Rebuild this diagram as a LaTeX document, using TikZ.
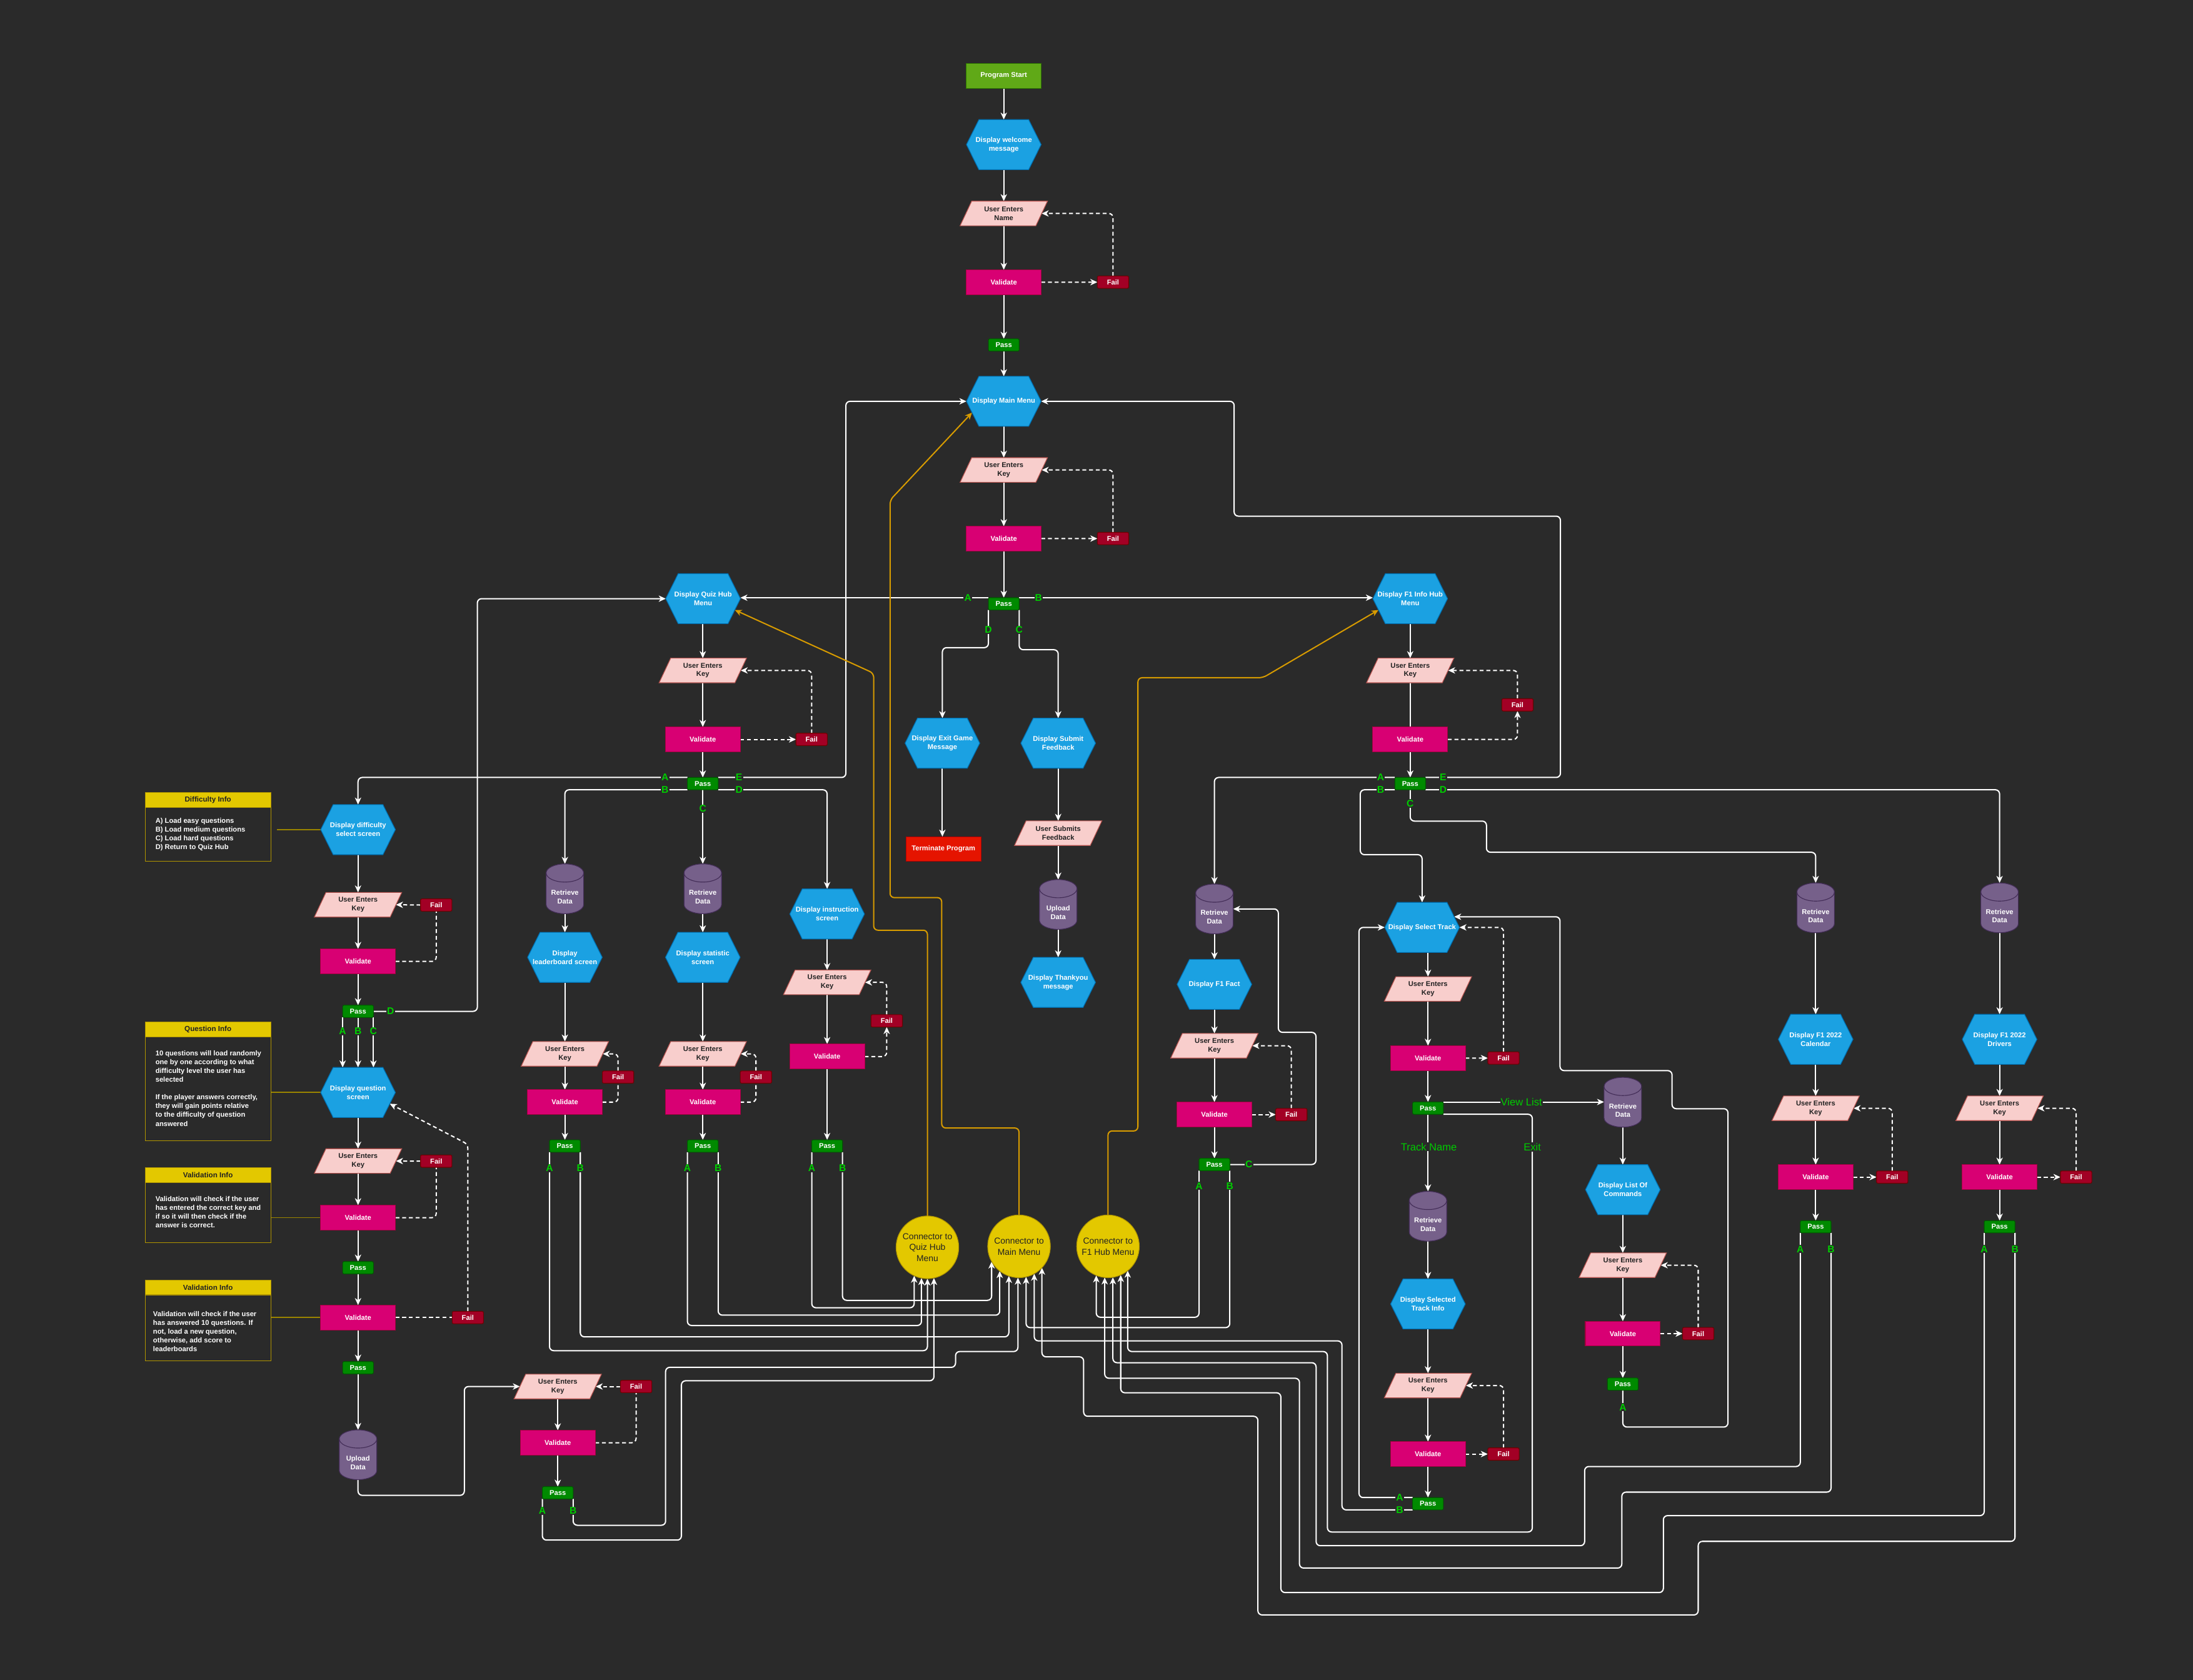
\documentclass[tikz,border=0pt]{standalone}
\usepackage{fontspec}
\setmainfont{Liberation Sans}
\usetikzlibrary{arrows.meta,calc}

\definecolor{bgc}{HTML}{2A2A2A}
\definecolor{hexfill}{HTML}{1BA1E2}
\definecolor{hexline}{HTML}{006EAF}
\definecolor{iofill}{HTML}{F8CECC}
\definecolor{ioline}{HTML}{B85450}
\definecolor{valfill}{HTML}{D80073}
\definecolor{valline}{HTML}{A50040}
\definecolor{failfill}{HTML}{A20025}
\definecolor{failline}{HTML}{6F0000}
\definecolor{passfill}{HTML}{008A00}
\definecolor{passline}{HTML}{005700}
\definecolor{startfill}{HTML}{60A917}
\definecolor{startline}{HTML}{2D7600}
\definecolor{termfill}{HTML}{E51400}
\definecolor{termline}{HTML}{B20000}
\definecolor{cylfill}{HTML}{76608A}
\definecolor{cylline}{HTML}{432D57}
\definecolor{yelfill}{HTML}{E3C800}
\definecolor{yelline}{HTML}{B09500}
\definecolor{orangeln}{HTML}{D79B00}
\definecolor{labgreen}{HTML}{00CC00}
\definecolor{oliveln}{HTML}{9A8400}
\definecolor{darktext}{HTML}{222222}

\pgfdeclarelayer{backdrop}
\pgfdeclarelayer{edges}
\pgfdeclarelayer{shapes}
\pgfsetlayers{backdrop,edges,shapes,main}

\tikzset{
  txt/.style={inner sep=0pt, outer sep=0pt, align=center, font=\fontsize{5}{6.2}\selectfont\bfseries},
  validbox/.style={txt, rectangle, minimum width=53.6pt, minimum height=17.8pt, fill=valfill, draw=valline, line width=0.5pt, text=white},
  startbox/.style={validbox, fill=startfill, draw=startline, minimum height=18pt},
  termbox/.style={validbox, fill=termfill, draw=termline},
  passbox/.style={txt, rectangle, rounded corners=1pt, minimum width=22pt, minimum height=8.8pt, fill=passfill, draw=passline, line width=0.5pt, text=white},
  failbox/.style={txt, rectangle, rounded corners=1pt, minimum width=22.4pt, minimum height=8.8pt, fill=failfill, draw=failline, line width=0.5pt, text=white},
  hexbox/.style={txt, minimum width=53.4pt, minimum height=35.8pt, text=white},
  iobox/.style={txt, minimum width=62.5pt, minimum height=17.6pt, text=darktext},
  cylbox/.style={txt, minimum width=26.8pt, minimum height=35.6pt},
  cyltext/.style={txt, text=white},
  conncircle/.style={circle, minimum size=44.8pt, inner sep=0pt, outer sep=0pt, fill=yelfill, draw=yelline, line width=0.5pt, align=center, font=\fontsize{6.2}{7.9}\selectfont, text=darktext},
  lab/.style={inner sep=0.5pt, fill=bgc, text=labgreen, font=\fontsize{7}{7}\selectfont\bfseries},
  wordlab/.style={inner sep=0.5pt, fill=bgc, text=labgreen, font=\fontsize{7.4}{8}\selectfont},
  infohead/.style={txt, anchor=north west, minimum width=89.8pt, minimum height=10.6pt, fill=yelfill, draw=yelline, line width=0.5pt, text=darktext, font=\fontsize{5.2}{6}\selectfont\bfseries},
  infobody/.style={anchor=north west, minimum width=89.8pt, inner sep=0pt, outer sep=0pt, draw=yelline, line width=0.5pt},
  infotext/.style={anchor=north west, inner sep=0pt, align=left, text=white, font=\fontsize{5}{6.3}\selectfont\bfseries},
  wline/.style={draw=white, line width=0.9pt, rounded corners=3pt},
  arr/.style={wline, -{Stealth[length=5pt,width=4.5pt,inset=1.5pt]}},
  dline/.style={wline, dash pattern=on 2.8pt off 2pt},
  darr/.style={dline, -{Stealth[length=5pt,width=4.5pt,inset=1.5pt]}},
  oarr/.style={draw=orangeln, line width=0.9pt, rounded corners=3pt, -{Stealth[length=5pt,width=4.5pt,inset=1.5pt]}},
  infoline/.style={draw=oliveln, line width=0.8pt},
}

% hexagon process box
\newcommand\hexnode[3]{%
  \node[hexbox] (#1) at (#2) {#3};
  \begin{pgfonlayer}{shapes}
    \filldraw[fill=hexfill, draw=hexline, line width=0.5pt]
      (#1.west) -- ([xshift=8.9pt]#1.north west) -- ([xshift=-8.9pt]#1.north east)
      -- (#1.east) -- ([xshift=-8.9pt]#1.south east) -- ([xshift=8.9pt]#1.south west) -- cycle;
  \end{pgfonlayer}}
% parallelogram input box
\newcommand\ionode[3]{%
  \node[iobox] (#1) at (#2) {#3};
  \begin{pgfonlayer}{shapes}
    \filldraw[fill=iofill, draw=ioline, line width=0.5pt]
      (#1.south west) -- ([xshift=8.3pt]#1.north west) -- (#1.north east)
      -- ([xshift=-8.3pt]#1.south east) -- cycle;
  \end{pgfonlayer}}
% database cylinder
\newcommand\cylnode[3]{%
  \node[cylbox] (#1) at (#2) {};
  \node[cyltext] at ([yshift=-5.8pt]#1.center) {#3};
  \begin{pgfonlayer}{shapes}
    \path[fill=cylfill, draw=cylline, line width=0.5pt]
      let \p1=(#1.north west), \p2=(#1.south east), \n1={0.5*(\x2-\x1)} in
      (\x1,{\y1-6.5pt}) arc[start angle=180, end angle=0, x radius={\n1*1pt}, y radius=6.5pt]
      -- (\x2,{\y2+6.5pt}) arc[start angle=0, end angle=-180, x radius={\n1*1pt}, y radius=6.5pt] -- cycle;
    \path[draw=cylline, line width=0.5pt]
      let \p1=(#1.north west), \p2=(#1.south east), \n1={0.5*(\x2-\x1)} in
      (\x1,{\y1-6.5pt}) arc[start angle=180, end angle=360, x radius={\n1*1pt}, y radius=6.5pt];
  \end{pgfonlayer}}

\begin{document}
\begin{tikzpicture}[x=1pt, y=1pt]
\begin{pgfonlayer}{backdrop}
  \fill[bgc] (0,0) rectangle (1568,-1201);
\end{pgfonlayer}
\useasboundingbox (0,0) rectangle (1568,-1201);

% ---------------- main column ----------------
\node[startbox] (start) at (717.7,-54.2) {Program Start};
\hexnode{welcome}{717.7,-103.4}{Display welcome\\message}
\ionode{nameIn}{717.7,-152.6}{User Enters\\Name}
\node[validbox] (val1) at (717.7,-201.8) {Validate};
\node[failbox] (fail1) at (795.8,-201.7) {Fail};
\node[passbox] (pass1) at (717.7,-246.6) {Pass};
\hexnode{mainMenu}{717.7,-286.9}{Display Main Menu}
\ionode{keyM}{717.7,-336}{User Enters\\Key}
\node[validbox] (valM) at (717.7,-385.1) {Validate};
\node[failbox] (failM) at (795.8,-385) {Fail};
\node[passbox] (passM) at (717.7,-431.7) {Pass};
\hexnode{exitHex}{673.8,-531.3}{Display Exit Game\\Message}
\node[termbox] (term) at (674.6,-607) {Terminate Program};
\hexnode{submitHex}{756.6,-531.3}{Display Submit\\Feedback}
\ionode{submitsIO}{756.6,-595.6}{User Submits\\Feedback}
\cylnode{uploadFB}{756.6,-646.6}{Upload\\Data}
\hexnode{thanksHex}{756.6,-702.3}{Display Thankyou\\message}

% ---------------- quiz hub ----------------
\hexnode{quizHub}{502.7,-428}{Display Quiz Hub\\Menu}
\ionode{keyQ}{502.5,-479.3}{User Enters\\Key}
\node[validbox] (valQ) at (502.5,-528.6) {Validate};
\node[failbox] (failQ) at (580.3,-528.6) {Fail};
\node[passbox] (passQ) at (502.5,-560.2) {Pass};

% leaderboard
\cylnode{LBret}{403.9,-635.4}{Retrieve\\Data}
\hexnode{LBhex}{403.9,-684.4}{Display\\leaderboard screen}
\ionode{LBkey}{403.9,-753.4}{User Enters\\Key}
\node[failbox] (LBfail) at (441.9,-770) {Fail};
\node[validbox] (LBval) at (403.9,-787.9) {Validate};
\node[passbox] (LBpass) at (403.9,-819.3) {Pass};
% statistics
\cylnode{STret}{502.5,-635.4}{Retrieve\\Data}
\hexnode{SThex}{502.5,-684.4}{Display statistic\\screen}
\ionode{STkey}{502.5,-753.4}{User Enters\\Key}
\node[failbox] (STfail) at (540.5,-770) {Fail};
\node[validbox] (STval) at (502.5,-787.9) {Validate};
\node[passbox] (STpass) at (502.5,-819.3) {Pass};
% instructions
\hexnode{INhex}{591.4,-653.4}{Display instruction\\screen}
\ionode{INkey}{591.4,-702.3}{User Enters\\Key}
\node[failbox] (INfail) at (634,-729.8) {Fail};
\node[validbox] (INval) at (591.4,-755.3) {Validate};
\node[passbox] (INpass) at (591.4,-819.3) {Pass};

% difficulty and questions
\hexnode{diffHex}{256,-593.1}{Display difficulty\\select screen}
\ionode{keyD}{256,-646.8}{User Enters\\Key}
\node[failbox] (failD) at (311.9,-647) {Fail};
\node[validbox] (valD) at (256,-687.3) {Validate};
\node[passbox] (passD) at (256,-723) {Pass};
\hexnode{qHex}{256,-781}{Display question\\screen}
\ionode{keyQ2}{256,-830}{User Enters\\Key}
\node[failbox] (failQ2) at (311.9,-830.1) {Fail};
\node[validbox] (valQ2) at (256,-870.5) {Validate};
\node[passbox] (passQ3) at (256,-906.3) {Pass};
\node[validbox] (valQ3) at (256,-941.9) {Validate};
\node[failbox] (failQ3) at (334.5,-941.9) {Fail};
\node[passbox] (passQ4) at (256,-977.8) {Pass};
\cylnode{uploadSc}{256,-1040}{Upload\\Data}

% score submission
\ionode{keyS}{398.8,-991.2}{User Enters\\Key}
\node[failbox] (failS) at (454.8,-991.2) {Fail};
\node[validbox] (valS) at (398.8,-1031.4) {Validate};
\node[passbox] (passS) at (398.8,-1067.2) {Pass};

% info boxes
\node[infohead] (dih) at (103.8,-566.7) {Difficulty Info};
\node[infobody, minimum height=38.5pt] (dib) at (103.8,-577.3) {};
\node[infotext] at (111,-584.6) {A) Load easy questions\\B) Load medium questions\\C) Load hard questions\\D) Return to Quiz Hub};
\node[infohead] (qih) at (103.8,-730.7) {Question Info};
\node[infobody, minimum height=74.2pt] (qib) at (103.8,-741.2) {};
\node[infotext] at (111,-750.8) {10 questions will load randomly\\one by one according to what\\difficulty level the user has\\selected\\[6.3pt]If the player answers correctly,\\they will gain points relative\\to the difficulty of question\\answered};
\node[infohead] (v1h) at (103.8,-834.7) {Validation Info};
\node[infobody, minimum height=43pt] (v1b) at (103.8,-845.3) {};
\node[infotext] at (111,-854.9) {Validation will check if the user\\has entered the correct key and\\if so it will then check if the\\answer is correct.};
\node[infohead] (v2h) at (103.8,-915.3) {Validation Info};
\node[infobody, minimum height=47.4pt] (v2b) at (103.8,-925.6) {};
\node[infotext] at (109.3,-937.3) {Validation will check if the user\\has answered 10 questions. If\\not, load a new question,\\otherwise, add score to\\leaderboards};

% ---------------- F1 hub ----------------
\hexnode{f1Hub}{1008.3,-428}{Display F1 Info Hub\\Menu}
\ionode{keyF}{1008.3,-479.3}{User Enters\\Key}
\node[validbox] (valF) at (1008.3,-528.6) {Validate};
\node[failbox] (failF) at (1085,-503.9) {Fail};
\node[passbox] (passF) at (1008.3,-560.2) {Pass};

% F1 fact
\cylnode{FFret}{868.3,-649.8}{Retrieve\\Data}
\hexnode{FFhex}{868.3,-703.7}{Display F1 Fact}
\ionode{FFkey}{868.3,-747.6}{User Enters\\Key}
\node[validbox] (FFval) at (868.3,-796.8) {Validate};
\node[failbox] (FFfail) at (923.3,-796.8) {Fail};
\node[passbox] (FFpass) at (868.3,-832.5) {Pass};

% tracks
\hexnode{TKhex}{1016.8,-663}{Display Select Track}
\ionode{TKkey}{1021,-707}{User Enters\\Key}
\node[validbox] (TKval) at (1021,-756.5) {Validate};
\node[failbox] (TKfail) at (1075,-756.4) {Fail};
\node[passbox] (TKpass) at (1021,-792.2) {Pass};
\cylnode{TKret}{1021,-869.5}{Retrieve\\Data}
\hexnode{TKinfo}{1021,-932.2}{Display Selected\\Track Info}
\ionode{TKkey2}{1021,-990.5}{User Enters\\Key}
\node[validbox] (TKval2) at (1021,-1039.5) {Validate};
\node[failbox] (TKfail2) at (1075,-1039.5) {Fail};
\node[passbox] (TKpass2) at (1021,-1075) {Pass};

% command list
\cylnode{CMret}{1160.3,-788}{Retrieve\\Data}
\hexnode{CMhex}{1160.3,-850.5}{Display List Of\\Commands}
\ionode{CMkey}{1160.3,-904.5}{User Enters\\Key}
\node[validbox] (CMval) at (1160.3,-953.4) {Validate};
\node[failbox] (CMfail) at (1214.2,-953.4) {Fail};
\node[passbox] (CMpass) at (1160.3,-989.5) {Pass};

% calendar
\cylnode{CAret}{1298.2,-649}{Retrieve\\Data}
\hexnode{CAhex}{1298.2,-743}{Display F1 2022\\Calendar}
\ionode{CAkey}{1298.2,-792.3}{User Enters\\Key}
\node[validbox] (CAval) at (1298.2,-841.5) {Validate};
\node[failbox] (CAfail) at (1352.9,-841.5) {Fail};
\node[passbox] (CApass) at (1298.2,-877) {Pass};

% drivers
\cylnode{DRret}{1429.7,-649}{Retrieve\\Data}
\hexnode{DRhex}{1429.7,-743}{Display F1 2022\\Drivers}
\ionode{DRkey}{1429.7,-792.3}{User Enters\\Key}
\node[validbox] (DRval) at (1429.7,-841.5) {Validate};
\node[failbox] (DRfail) at (1484.4,-841.5) {Fail};
\node[passbox] (DRpass) at (1429.7,-877) {Pass};

% off-page connectors
\node[conncircle] (cQH) at (663.1,-891.7) {Connector to\\Quiz Hub\\Menu};
\node[conncircle] (cMain) at (728.6,-891) {Connector to\\Main Menu};
\node[conncircle] (cF1) at (792.2,-891) {Connector to\\F1 Hub Menu};

% helper points on hexagon edges
\coordinate (mmSW) at ([xshift=8.9pt]mainMenu.south west);
\coordinate (mmPt) at ($(mainMenu.west)!0.45!(mmSW)$);
\coordinate (qhSE) at ([xshift=-8.9pt]quizHub.south east);
\coordinate (qhPt) at ($(quizHub.east)!0.45!(qhSE)$);
\coordinate (f1SW) at ([xshift=8.9pt]f1Hub.south west);
\coordinate (f1Pt) at ($(f1Hub.west)!0.45!(f1SW)$);
\coordinate (qxSE) at ([xshift=-8.9pt]qHex.south east);
\coordinate (qxPt) at ($(qHex.east)!0.45!(qxSE)$);
\coordinate (tkNE) at ([xshift=-8.9pt]TKhex.north east);
\coordinate (tkPt) at ($(tkNE)!0.575!(TKhex.east)$);

\begin{pgfonlayer}{edges}
% main column
\draw[arr] (start) -- (welcome);
\draw[arr] (welcome) -- (nameIn);
\draw[arr] (nameIn) -- (val1);
\draw[arr] (val1) -- (pass1);
\draw[arr] (pass1) -- (mainMenu);
\draw[arr] (mainMenu) -- (keyM);
\draw[arr] (keyM) -- (valM);
\draw[arr] (valM) -- (passM);
\draw[darr] (val1) -- (fail1);
\draw[darr] (fail1.north) |- ([xshift=-4.15pt]nameIn.east);
\draw[darr] (valM) -- (failM);
\draw[darr] (failM.north) |- ([xshift=-4.15pt]keyM.east);
\draw[arr] (passM.north west) -- (passM.north west -| quizHub.east);
\draw[arr] (passM.north east) -- (passM.north east -| f1Hub.west);
\draw[arr] (passM.south west) |- (exitHex.north |- 0,-463) -- (exitHex.north);
\draw[arr] (exitHex.south) -- (exitHex.south |- term.north);
\draw[arr] (passM.south east) |- (submitHex.north |- 0,-464.5) -- (submitHex.north);
\draw[arr] (submitHex) -- (submitsIO);
\draw[arr] (submitsIO) -- (uploadFB);
\draw[arr] (uploadFB) -- (thanksHex);

% quiz hub
\draw[arr] (quizHub.south -| keyQ.north) -- (keyQ.north);
\draw[arr] (keyQ) -- (valQ);
\draw[arr] (valQ) -- (passQ);
\draw[darr] (valQ) -- (failQ);
\draw[darr] (failQ.north) |- ([xshift=-4.15pt]keyQ.east);
\draw[arr] (passQ.north west) -| (diffHex.north);
\draw[arr] (passQ.north east) -- (604.8,-555.8) |- (mainMenu.west);
\draw[arr] (passQ.south west) -| (LBret.north);
\draw[arr] (passQ.south east) -| (INhex.north);
\draw[arr] (passQ) -- (STret);

% leaderboard / statistics / instructions
\draw[arr] (LBret) -- (LBhex);
\draw[arr] (LBhex) -- (LBkey);
\draw[arr] (LBkey) -- (LBval);
\draw[arr] (LBval) -- (LBpass);
\draw[dline] (LBval.east) -| (LBfail.south);
\draw[darr] (LBfail.north) |- ([xshift=-4.15pt]LBkey.east);
\draw[arr] (STret) -- (SThex);
\draw[arr] (SThex) -- (STkey);
\draw[arr] (STkey) -- (STval);
\draw[arr] (STval) -- (STpass);
\draw[dline] (STval.east) -| (STfail.south);
\draw[darr] (STfail.north) |- ([xshift=-4.15pt]STkey.east);
\draw[arr] (INhex) -- (INkey);
\draw[arr] (INkey) -- (INval);
\draw[arr] (INval) -- (INpass);
\draw[darr] (INval.east) -| (INfail.south);
\draw[darr] (INfail.north) |- ([xshift=-4.15pt]INkey.east);

% difficulty and questions
\draw[arr] (diffHex) -- (keyD);
\draw[arr] (keyD) -- (valD);
\draw[arr] (valD) -- (passD);
\draw[dline] (valD.east) -| (failD.south);
\draw[darr] (failD.west) -- ([xshift=-4.15pt]keyD.east);
\draw[arr] (passD.east) -- (341.3,-723) |- (quizHub.west);
\draw[arr] (passD.south west) -- (passD.south west |- qHex.north);
\draw[arr] (passD.south) -- (qHex.north);
\draw[arr] (passD.south east) -- (passD.south east |- qHex.north);
\draw[arr] (qHex) -- (keyQ2);
\draw[arr] (keyQ2) -- (valQ2);
\draw[arr] (valQ2) -- (passQ3);
\draw[dline] (valQ2.east) -| (failQ2.south);
\draw[darr] (failQ2.west) -- ([xshift=-4.15pt]keyQ2.east);
\draw[arr] (passQ3) -- (valQ3);
\draw[arr] (valQ3) -- (passQ4);
\draw[dline] (valQ3) -- (failQ3);
\draw[darr] (failQ3.north) -- (334.5,-818) -- (qxPt);
\draw[arr] (passQ4) -- (uploadSc);
\draw[arr] (uploadSc.south) |- (332,-1069) |- ([xshift=4.15pt]keyS.west);
\draw[arr] (keyS) -- (valS);
\draw[arr] (valS) -- (passS);
\draw[dline] (valS.east) -| (failS.south);
\draw[darr] (failS.west) -- ([xshift=-4.15pt]keyS.east);

% info notes
\draw[infoline] (197.8,-593.1) -- (diffHex.west);
\draw[infoline] (qib.east |- qHex.west) -- (qHex.west);
\draw[infoline] (v1b.east |- valQ2.west) -- (valQ2.west);
\draw[infoline] (v2b.east |- valQ3.west) -- (valQ3.west);

% F1 hub
\draw[arr] (f1Hub) -- (keyF);
\draw[wline] (keyF) -- (valF);
\draw[arr] (valF) -- (passF);
\draw[darr] (valF.east) -| (failF.south);
\draw[darr] (failF.north) |- ([xshift=-4.15pt]keyF.east);
\draw[arr] (passF.north west) -| (FFret.north);
\draw[arr] (passF.north east) -- (1115.7,-555.8) -- (1115.7,-369) -- (882.4,-369) |- (mainMenu.east);
\draw[arr] (passF.south west) -- (972.6,-564.6) -- (972.6,-611) -| (TKhex.north);
\draw[arr] (passF.south) -- (1008.3,-587) -- (1062.8,-587) -- (1062.8,-609.3) -| (CAret.north);
\draw[arr] (passF.south east) -| (DRret.north);

% F1 fact
\draw[arr] (FFret) -- (FFhex);
\draw[arr] (FFhex) -- (FFkey);
\draw[arr] (FFkey) -- (FFval);
\draw[arr] (FFval) -- (FFpass);
\draw[darr] (FFval) -- (FFfail);
\draw[darr] (FFfail.north) |- ([xshift=-4.15pt]FFkey.east);
\draw[arr] (FFpass.east) -- (940.9,-832.5) -- (940.9,-738) -- (914,-738) |- (FFret.east);

% tracks
\draw[arr] (TKkey.north |- TKhex.south) -- (TKkey.north);
\draw[arr] (TKkey) -- (TKval);
\draw[arr] (TKval) -- (TKpass);
\draw[darr] (TKval) -- (TKfail);
\draw[darr] (TKfail.north) |- (TKhex.east);
\draw[arr] (TKpass.north east) -- (TKpass.north east -| CMret.west);
\draw[arr] (TKpass) -- (TKret);
\draw[arr] (TKret) -- (TKinfo);
\draw[arr] (TKinfo) -- (TKkey2);
\draw[arr] (TKkey2) -- (TKval2);
\draw[arr] (TKval2) -- (TKpass2);
\draw[darr] (TKval2) -- (TKfail2);
\draw[darr] (TKfail2.north) |- ([xshift=-4.15pt]TKkey2.east);
\draw[arr] (TKpass2.north west) -- (971.7,-1070.6) |- (TKhex.west);

% commands
\draw[arr] (CMret) -- (CMhex);
\draw[arr] (CMhex) -- (CMkey);
\draw[arr] (CMkey) -- (CMval);
\draw[arr] (CMval) -- (CMpass);
\draw[darr] (CMval) -- (CMfail);
\draw[darr] (CMfail.north) |- ([xshift=-4.15pt]CMkey.east);
\draw[arr] (CMpass.south) -- (1160.3,-1020.2) -- (1235.5,-1020.2) -- (1235.5,-792.6) -- (1195.5,-792.6) -- (1195.5,-765.4) -- (1115.4,-765.4) -- (1115.4,-655.4) -- (tkPt);

% calendar and drivers
\draw[arr] (CAret) -- (CAhex);
\draw[arr] (CAhex) -- (CAkey);
\draw[arr] (CAkey) -- (CAval);
\draw[arr] (CAval) -- (CApass);
\draw[darr] (CAval) -- (CAfail);
\draw[darr] (CAfail.north) |- ([xshift=-4.15pt]CAkey.east);
\draw[arr] (DRret) -- (DRhex);
\draw[arr] (DRhex) -- (DRkey);
\draw[arr] (DRkey) -- (DRval);
\draw[arr] (DRval) -- (DRpass);
\draw[darr] (DRval) -- (DRfail);
\draw[darr] (DRfail.north) |- ([xshift=-4.15pt]DRkey.east);

% returns to the quiz hub connector
\draw[arr] (INpass.south west) |- (cQH.-115 |- 0,-934.9) -- (cQH.-115);
\draw[arr] (STpass.south west) |- (cQH.-101 |- 0,-947.6) -- (cQH.-101);
\draw[arr] (LBpass.south west) |- (cQH.-90 |- 0,-965.6) -- (cQH.-90);
\draw[arr] (passS.south west) -- (387.8,-1101) -- (487.2,-1101) -- (487.2,-987.1) -- (cQH.-78 |- 0,-987.1) -- (cQH.-78);

% returns to the main menu connector
\draw[arr] (INpass.south east) |- (cMain.-151 |- 0,-929.6) -- (cMain.-151);
\draw[arr] (STpass.south east) |- (cMain.-128 |- 0,-940.2) -- (cMain.-128);
\draw[arr] (LBpass.south east) |- (cMain.-109 |- 0,-955.7) -- (cMain.-109);
\draw[arr] (passS.south east) -- (409.8,-1090.4) -- (475.9,-1090.4) -- (475.9,-977.5) -- (683.2,-977.5) -- (683.2,-966.2) -- (cMain.-92 |- 0,-966.2) -- (cMain.-92);
\draw[arr] (FFpass.south east) |- (cMain.-77 |- 0,-949.1) -- (cMain.-77);
\draw[arr] (TKpass2.south west) -- (959.5,-1079.4) -- (959.5,-958.6) -- (cMain.-61 |- 0,-958.6) -- (cMain.-61);
\draw[arr] (DRpass.south east) -- (1440.7,-1101.9) -- (1214.2,-1101.9) -- (1214.2,-1154.5) -- (899.4,-1154.5) -- (899.4,-1012.5) -- (774.8,-1012.5) -- (774.8,-970) -- (cMain.-43 |- 0,-970) -- (cMain.-43);

% returns to the F1 hub connector
\draw[arr] (FFpass.south west) |- (cF1.-112 |- 0,-941.7) -- (cF1.-112);
\draw[arr] (TKpass.south east) -- (1095.6,-796.6) -- (1095.6,-1095.2) -- (949.1,-1095.2) -- (949.1,-966.2) -- (cF1.-51 |- 0,-966.2) -- (cF1.-51);
\draw[arr] (CApass.south west) -- (1287.2,-1048.4) -- (1133,-1048.4) -- (1133,-1105) -- (941,-1105) -- (941,-974.2) -- (cF1.-81 |- 0,-974.2) -- (cF1.-81);
\draw[arr] (CApass.south east) -- (1309.2,-1066.7) -- (1159.6,-1066.7) -- (1159.6,-1121) -- (929.1,-1121) -- (929.1,-985.3) -- (cF1.-96 |- 0,-985.3) -- (cF1.-96);
\draw[arr] (DRpass.south west) -- (1418.7,-1083.5) -- (1189.3,-1083.5) -- (1189.3,-1138.5) -- (915.8,-1138.5) -- (915.8,-995.7) -- (cF1.-66 |- 0,-995.7) -- (cF1.-66);

% connectors back to the menus
\draw[oarr] (cMain.north) -- (728.6,-806.4) -- (673.3,-806.4) -- (673.3,-641.7) -- (636.4,-641.7) -- (636.4,-357.5) -- (mmPt);
\draw[oarr] (cQH.north) -- (663.1,-665) -- (624.7,-665) -- (624.7,-481.3) -- (qhPt);
\draw[oarr] (cF1.north) -- (792.2,-808.5) -- (813.6,-808.5) -- (813.6,-484.5) -- (903,-484.5) -- (f1Pt);
\end{pgfonlayer}

% branch labels
\node[lab] at (692,-427.3) {A};
\node[lab] at (742.6,-427.3) {B};
\node[lab] at (706.7,-450.2) {D};
\node[lab] at (728.7,-450.2) {C};
\node[lab] at (475.5,-555.8) {A};
\node[lab] at (475.5,-564.6) {B};
\node[lab] at (528.4,-555.8) {E};
\node[lab] at (528.4,-564.6) {D};
\node[lab] at (502.5,-578.1) {C};
\node[lab] at (245,-737.2) {A};
\node[lab] at (256,-737.2) {B};
\node[lab] at (267,-737.2) {C};
\node[lab] at (279.3,-723) {D};
\node[lab] at (392.9,-835.2) {A};
\node[lab] at (414.9,-835.2) {B};
\node[lab] at (491.5,-835.2) {A};
\node[lab] at (513.5,-835.2) {B};
\node[lab] at (580.4,-835.2) {A};
\node[lab] at (602.4,-835.2) {B};
\node[lab] at (387.8,-1080) {A};
\node[lab] at (409.8,-1080) {B};
\node[lab] at (987.2,-555.8) {A};
\node[lab] at (987.2,-564.6) {B};
\node[lab] at (1031.8,-555.8) {E};
\node[lab] at (1031.8,-564.6) {D};
\node[lab] at (1008.3,-574.4) {C};
\node[lab] at (857.3,-847.9) {A};
\node[lab] at (879.3,-847.9) {B};
\node[lab] at (893,-832.5) {C};
\node[wordlab] at (1087.8,-788) {View List};
\node[wordlab] at (1021.6,-819.8) {Track Name};
\node[wordlab] at (1095.6,-820) {Exit};
\node[lab] at (1000.8,-1070.6) {A};
\node[lab] at (1000.8,-1079.4) {B};
\node[lab] at (1160.3,-1006) {A};
\node[lab] at (1287.2,-892.9) {A};
\node[lab] at (1309.2,-892.9) {B};
\node[lab] at (1418.7,-892.9) {A};
\node[lab] at (1440.7,-892.9) {B};
\end{tikzpicture}
\end{document}
